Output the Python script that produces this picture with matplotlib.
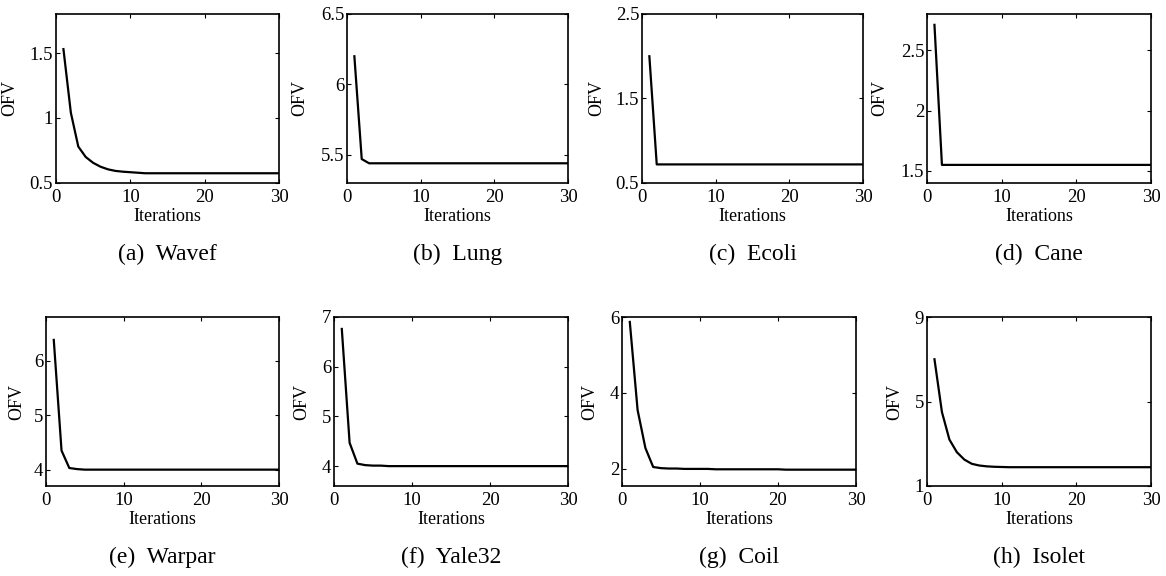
import matplotlib
matplotlib.use('Agg')
import matplotlib.pyplot as plt

plt.rcParams['font.family'] = ['Liberation Serif', 'DejaVu Serif']

# Objective function value per iteration for each dataset
iterations = list(range(1, 31))

wavef = [1.53, 1.04, 0.78, 0.70, 0.655, 0.625, 0.605, 0.593, 0.587, 0.583,
         0.579, 0.575, 0.575, 0.575, 0.575, 0.575, 0.575, 0.575, 0.575, 0.575,
         0.575, 0.575, 0.575, 0.575, 0.575, 0.575, 0.575, 0.575, 0.575, 0.575]
lung = [6.20, 5.47, 5.44, 5.44, 5.44, 5.44, 5.44, 5.44, 5.44, 5.44,
        5.44, 5.44, 5.44, 5.44, 5.44, 5.44, 5.44, 5.44, 5.44, 5.44,
        5.44, 5.44, 5.44, 5.44, 5.44, 5.44, 5.44, 5.44, 5.44, 5.44]
ecoli = [2.00, 0.72, 0.72, 0.72, 0.72, 0.72, 0.72, 0.72, 0.72, 0.72,
         0.72, 0.72, 0.72, 0.72, 0.72, 0.72, 0.72, 0.72, 0.72, 0.72,
         0.72, 0.72, 0.72, 0.72, 0.72, 0.72, 0.72, 0.72, 0.72, 0.72]
cane = [2.71, 1.55, 1.55, 1.55, 1.55, 1.55, 1.55, 1.55, 1.55, 1.55,
        1.55, 1.55, 1.55, 1.55, 1.55, 1.55, 1.55, 1.55, 1.55, 1.55,
        1.55, 1.55, 1.55, 1.55, 1.55, 1.55, 1.55, 1.55, 1.55, 1.55]
warpar = [6.38, 4.35, 4.03, 4.01, 4.00, 4.00, 4.00, 4.00, 4.00, 4.00,
          4.00, 4.00, 4.00, 4.00, 4.00, 4.00, 4.00, 4.00, 4.00, 4.00,
          4.00, 4.00, 4.00, 4.00, 4.00, 4.00, 4.00, 4.00, 4.00, 4.00]
yale32 = [6.76, 4.47, 4.05, 4.02, 4.01, 4.01, 4.00, 4.00, 4.00, 4.00,
          4.00, 4.00, 4.00, 4.00, 4.00, 4.00, 4.00, 4.00, 4.00, 4.00,
          4.00, 4.00, 4.00, 4.00, 4.00, 4.00, 4.00, 4.00, 4.00, 4.00]
coil = [5.87, 3.55, 2.55, 2.05, 2.02, 2.01, 2.01, 2.00, 2.00, 2.00,
        2.00, 1.99, 1.99, 1.99, 1.99, 1.99, 1.99, 1.99, 1.99, 1.99,
        1.98, 1.98, 1.98, 1.98, 1.98, 1.98, 1.98, 1.98, 1.98, 1.98]
isolet = [7.00, 4.50, 3.20, 2.60, 2.25, 2.05, 1.97, 1.93, 1.91, 1.90,
          1.89, 1.89, 1.89, 1.89, 1.89, 1.89, 1.89, 1.89, 1.89, 1.89,
          1.89, 1.89, 1.89, 1.89, 1.89, 1.89, 1.89, 1.89, 1.89, 1.89]

captions = ['(a)  Wavef', '(b)  Lung', '(c)  Ecoli', '(d)  Cane',
            '(e)  Warpar', '(f)  Yale32', '(g)  Coil', '(h)  Isolet']
series = [wavef, lung, ecoli, cane, warpar, yale32, coil, isolet]
y_limits = [(0.5, 1.8), (5.3, 6.5), (0.5, 2.5), (1.4, 2.8),
            (3.7, 6.8), (3.6, 7.0), (1.55, 6.0), (1.0, 9.0)]
y_ticks = [[0.5, 1, 1.5], [5.5, 6, 6.5], [0.5, 1.5, 2.5], [1.5, 2, 2.5],
           [4, 5, 6], [4, 5, 6, 7], [2, 4, 6], [1, 5, 9]]
y_ticklabels = [['0.5', '1', '1.5'], ['5.5', '6', '6.5'], ['0.5', '1.5', '2.5'],
                ['1.5', '2', '2.5'], ['4', '5', '6'], ['4', '5', '6', '7'],
                ['2', '4', '6'], ['1', '5', '9']]

W, H = 1166, 576
fig = plt.figure(figsize=(W / 100, H / 100), dpi=100)

# axes boxes in pixels: left, right, top, bottom
boxes = [(56, 279, 14, 183), (347, 568, 14, 183), (642, 863, 14, 183), (927, 1151, 14, 183),
         (46, 279, 317, 486), (334, 568, 317, 486), (622, 856, 317, 486), (927, 1151, 317, 486)]
label_offsets = [38, 39, 37, 39, 21, 24, 24, 24]
caption_y = [254, 254, 254, 254, 557, 557, 557, 557]

for i in range(8):
    l, r, t, b = boxes[i]
    ax = fig.add_axes([l / W, 1 - b / H, (r - l) / W, (b - t) / H])
    ax.plot(iterations, series[i], color='black', linewidth=1.6)
    ax.set_xlim(0, 30)
    ax.set_ylim(*y_limits[i])
    ax.set_xticks([0, 10, 20, 30])
    ax.set_yticks(y_ticks[i])
    ax.set_yticklabels(y_ticklabels[i])
    ax.tick_params(direction='in', length=3, width=0.8, top=True, right=True,
                   labelsize=13.5)
    ax.tick_params(axis='x', pad=4)
    ax.tick_params(axis='y', pad=2)
    for spine in ax.spines.values():
        spine.set_linewidth(1.2)
    ax.set_xlabel('Iterations', fontsize=13, labelpad=2)
    ax.set_ylabel('OFV', fontsize=13)
    ax.yaxis.set_label_coords(-label_offsets[i] / (r - l), 0.5)
    fig.text((l + r) / 2 / W, 1 - caption_y[i] / H, captions[i],
             ha='center', va='center', fontsize=17)

fig.savefig('out.png', dpi=100)
